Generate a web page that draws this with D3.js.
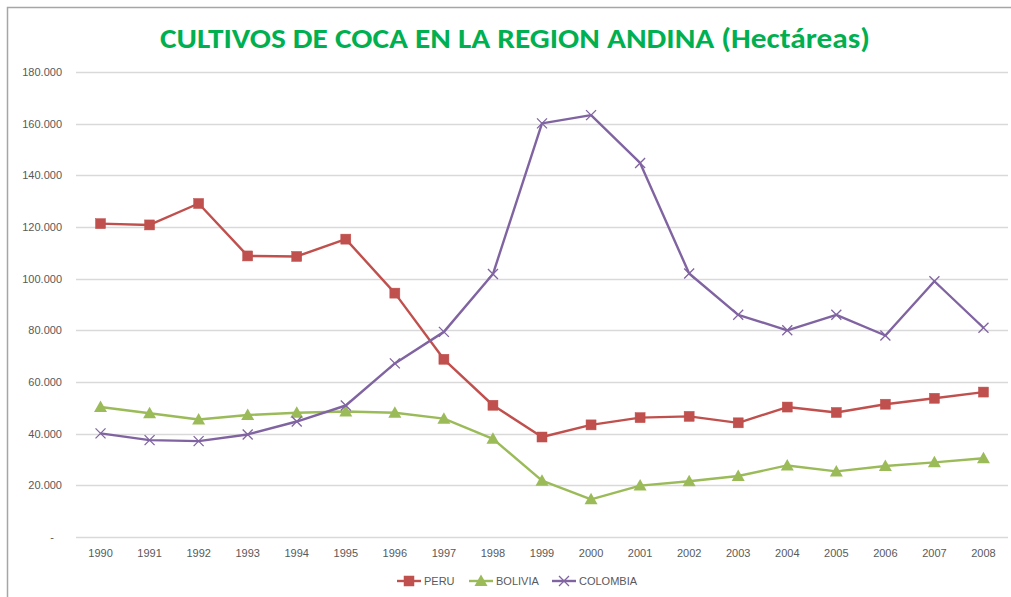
<!DOCTYPE html>
<html>
<head>
<meta charset="utf-8">
<script src="https://cdn.jsdelivr.net/npm/d3@7"></script>
<style>
  html, body { margin: 0; padding: 0; background: #fff; }
  svg { display: block; }
</style>
</head>
<body>
<svg id="chart" width="1011" height="597"></svg>
<script>
const years = ["1990","1991","1992","1993","1994","1995","1996","1997","1998","1999","2000","2001","2002","2003","2004","2005","2006","2007","2008"];
const peru = [121300,120800,129100,108800,108600,115300,94400,68800,51000,38700,43400,46200,46700,44200,50300,48200,51400,53700,56100];
const bolivia = [50300,47900,45500,47200,48100,48600,48100,45800,38000,21800,14600,19900,21600,23600,27700,25400,27500,28900,30500];
const colombia = [40100,37500,37100,39700,44700,50900,67200,79400,101800,160100,163300,144800,102000,86000,80000,86000,78000,99000,81000];
const yTicks = [0,20000,40000,60000,80000,100000,120000,140000,160000,180000];
const seriesNames = ["PERU","BOLIVIA","COLOMBIA"];
const titleText = "CULTIVOS DE COCA EN LA REGION ANDINA (Hectáreas)";

const series = [
  {name: seriesNames[0], values: peru, color: "#c0504d", marker: "square"},
  {name: seriesNames[1], values: bolivia, color: "#9bbb59", marker: "triangle"},
  {name: seriesNames[2], values: colombia, color: "#8064a2", marker: "x"}
];

const svg = d3.select("#chart");
const W = 1011, H = 597;
const mLeft = 76, mRight = 1008, mTop = 72, mBottom = 537;

// outer frame
svg.append("path")
  .attr("d", `M7.5,${H} L7.5,7.5 L${W},7.5`)
  .attr("fill", "none").attr("stroke", "#a6a6a6").attr("stroke-width", 1.5);

// title
svg.append("text")
  .attr("x", 515).attr("y", 48)
  .attr("text-anchor", "middle")
  .attr("font-family", "Carlito, 'Open Sans', 'Liberation Sans', sans-serif")
  .attr("font-weight", "bold").attr("font-size", 28)
  .attr("fill", "#00b050")
  .attr("textLength", 710).attr("lengthAdjust", "spacingAndGlyphs")
  .text(titleText);

const x = d3.scaleBand().domain(years).range([mLeft, mRight]);
const y = d3.scaleLinear().domain([0, 180000]).range([mBottom, mTop]);

const fmt = v => v === 0 ? "-" : d3.format(",")(v).replace(/,/g, ".");

// grid
svg.append("g").selectAll("line").data(yTicks).join("line")
  .attr("x1", mLeft).attr("x2", mRight)
  .attr("y1", d => Math.round(y(d)) + 0.5).attr("y2", d => Math.round(y(d)) + 0.5)
  .attr("stroke", "#d9d9d9").attr("stroke-width", 1.3);

// y axis labels
const yAxis = d3.axisLeft(y).tickValues(yTicks).tickFormat(fmt).tickSize(0).tickPadding(0);
const gy = svg.append("g").attr("transform", `translate(62,0)`).call(yAxis);
gy.select(".domain").remove();
gy.selectAll("text")
  .attr("font-family", "'Liberation Sans', Arial, sans-serif")
  .attr("font-size", 11).attr("fill", "#595959");
gy.selectAll(".tick").filter(d => d === 0).select("text").attr("x", -8);

// x axis labels
const xAxis = d3.axisBottom(x).tickSize(0).tickPadding(0);
const gx = svg.append("g").attr("transform", `translate(0,${mBottom + 12})`).call(xAxis);
gx.select(".domain").remove();
gx.selectAll("text")
  .attr("font-family", "'Liberation Sans', Arial, sans-serif")
  .attr("font-size", 11).attr("fill", "#595959");

const cx = d => x(d) + x.bandwidth() / 2;

function drawMarker(g, type, color, px, py) {
  if (type === "square") {
    g.append("rect").attr("x", px - 5).attr("y", py - 5).attr("width", 10).attr("height", 10)
      .attr("fill", color).attr("stroke", color).attr("stroke-width", 0.5);
  } else if (type === "triangle") {
    g.append("path").attr("d", `M${px},${py - 6.5} L${px + 6.5},${py + 5} L${px - 6.5},${py + 5} Z`)
      .attr("fill", color);
  } else {
    g.append("path").attr("d", `M${px - 5},${py - 5} L${px + 5},${py + 5} M${px - 5},${py + 5} L${px + 5},${py - 5}`)
      .attr("stroke", color).attr("stroke-width", 1.3).attr("fill", "none");
  }
}

const line = d3.line().x(d => cx(d.year)).y(d => y(d.v));

series.forEach(s => {
  const pts = years.map((yr, i) => ({year: yr, v: s.values[i]}));
  const g = svg.append("g");
  g.append("path").datum(pts).attr("d", line)
    .attr("fill", "none").attr("stroke", s.color).attr("stroke-width", 2.4)
    .attr("stroke-linejoin", "round");
  pts.forEach(p => drawMarker(g, s.marker, s.color, cx(p.year), y(p.v)));
});

// legend
const legendX = [397, 469, 552];
series.forEach((s, i) => {
  const g = svg.append("g");
  const lx = legendX[i], ly = 581;
  g.append("line").attr("x1", lx).attr("x2", lx + 24).attr("y1", ly).attr("y2", ly)
    .attr("stroke", s.color).attr("stroke-width", 2.4);
  drawMarker(g, s.marker, s.color, lx + 12, ly);
  g.append("text").attr("x", lx + 27).attr("y", ly + 4)
    .attr("font-family", "'Liberation Sans', Arial, sans-serif")
    .attr("font-size", 11).attr("fill", "#595959").text(s.name);
});
</script>
</body>
</html>
